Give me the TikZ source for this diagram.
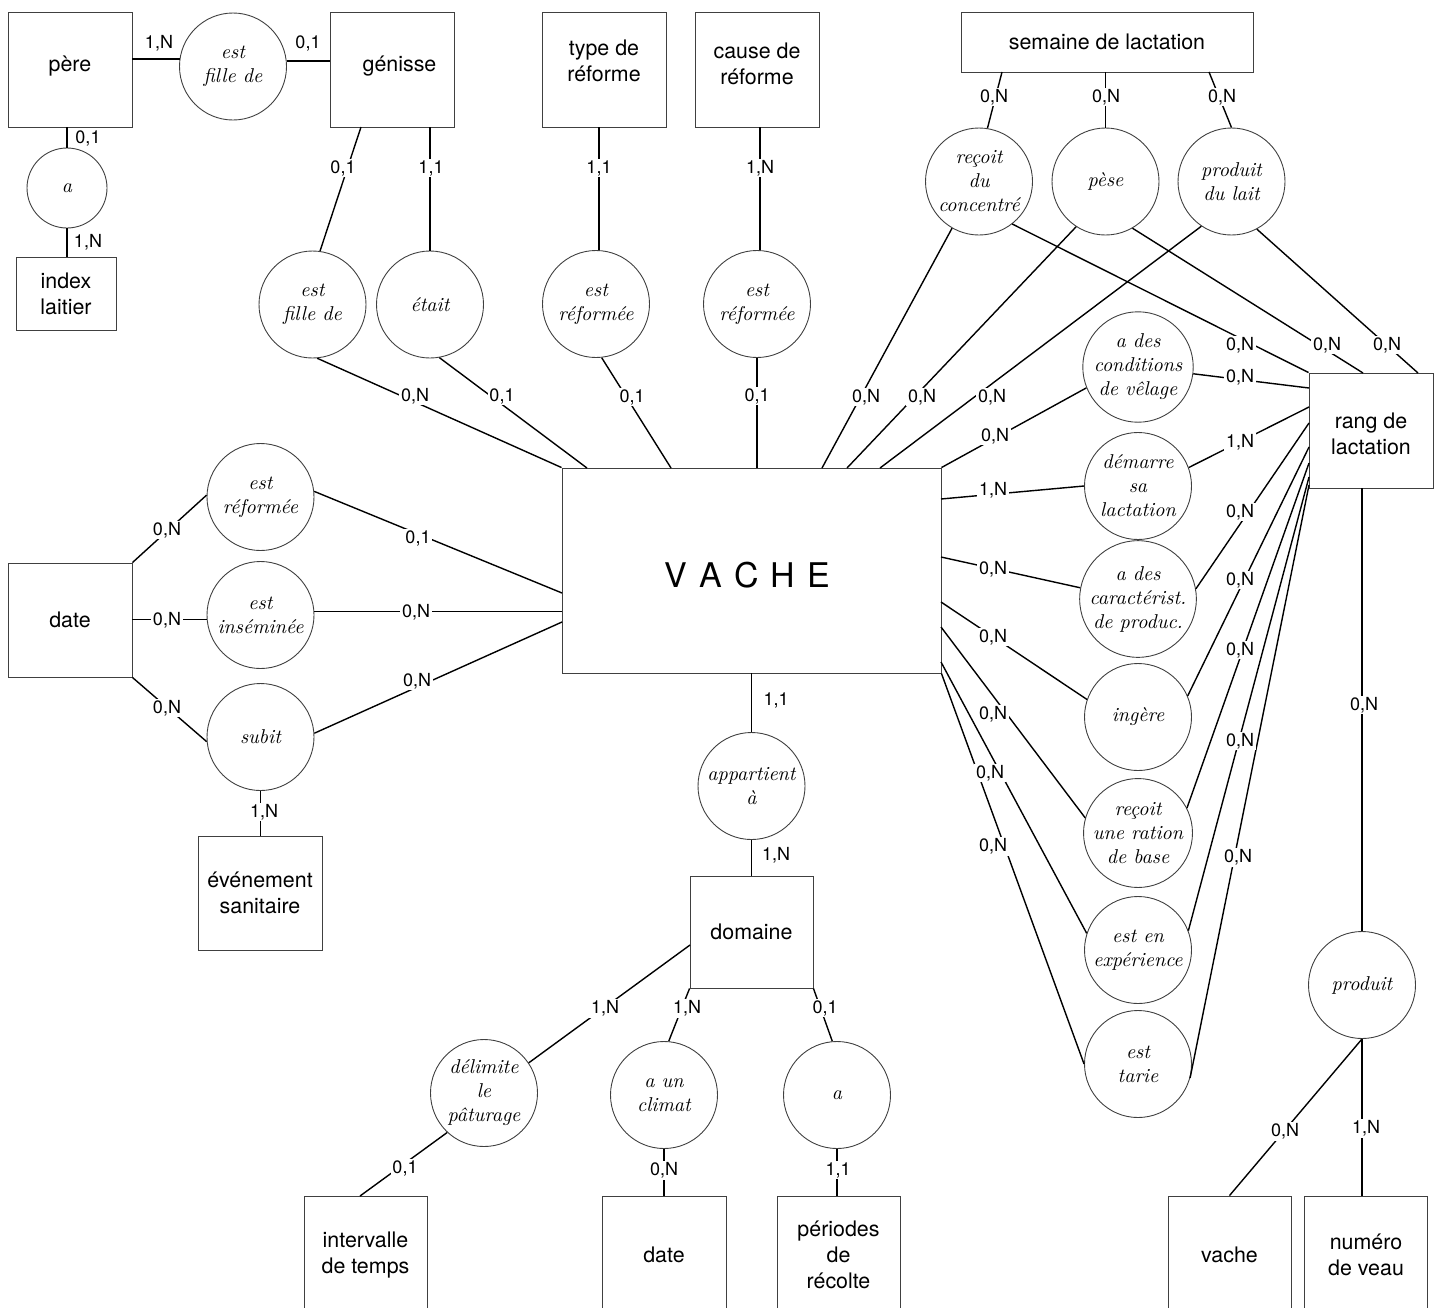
\documentclass[tikz,border=0pt]{standalone}
\usepackage{fontspec}
\setsansfont{TeX Gyre Heros}

\begin{document}
\begin{tikzpicture}[
		x=0.5pt, y=-0.5pt,
		entity/.style={draw=black!75, line width=0.45pt, rectangle, inner sep=0pt, align=center,
			minimum width=62pt, minimum height=57.5pt, font=\sffamily\fontsize{10.7}{13}\selectfont},
		entlabel/.style={inner sep=0pt, align=center, font=\sffamily\fontsize{10.7}{13}\selectfont},
		relation/.style={draw=black!75, line width=0.45pt, circle, inner sep=0pt, align=center,
			minimum size=53.5pt, font=\itshape\fontsize{10}{12}\selectfont},
		card/.style={fill=white, inner sep=0.8pt, font=\sffamily\fontsize{9}{10}\selectfont},
		link/.style={line width=0.7pt, black}
		]
		\useasboundingbox (0,0) rectangle (1444,1307);
		\clip (0,0) rectangle (1444,1307);
		% Entities
		\node[entity, label={[entlabel, yshift=1.5pt]center:père}] at (70,69.5) (pere) {};
		\node[entity, label={[entlabel, xshift=3.5pt, yshift=1.5pt]center:génisse}] at (392.5,69.5) (genisse) {};
		\node[entity, label={[entlabel, yshift=4.5pt]center:{type de\\réforme}}] at (604,69.5) (typeref) {};
		\node[entity, label={[entlabel, yshift=3pt]center:{cause de\\réforme}}] at (757,69.5) (causeref) {};
		\node[entity, minimum width=146pt, minimum height=30pt] at (1107,42) (semaine) {semaine de lactation};
		\node[entity, minimum width=50pt, minimum height=36.5pt] at (66,293.5) (index) {index\\laitier};
		\node[entity, minimum height=57pt] at (70,620) (dateL) {date};
		\node[entity, minimum width=189.5pt, minimum height=102.5pt,
			label={[entlabel, xshift=-2pt, yshift=-2.5pt, font=\sffamily\fontsize{17}{20}\selectfont]center:{V\kern6pt A\kern6pt C\kern6pt H\kern6pt E}}]
			at (751.5,570.5) (vache) {};
		\node[entity, label={[entlabel, yshift=-1.5pt]center:{rang de\\lactation}}] at (1371,430.5) (rang) {};
		\node[entity, minimum height=57pt] at (260,893) (evenement) {événement\\sanitaire};
		\node[entity, minimum width=61.5pt, minimum height=56pt] at (751.5,932) (domaine) {domaine};
		\node[entity, minimum width=61.5pt, minimum height=59pt] at (365.5,1255) (intervalle) {intervalle\\de temps};
		\node[entity, minimum height=59pt] at (664,1255) (dateB) {date};
		\node[entity, minimum width=61.5pt, minimum height=59pt] at (838.5,1255) (periodes) {périodes\\de\\récolte};
		\node[entity, minimum width=61.5pt, minimum height=59pt] at (1229.5,1255) (vacheB) {vache};
		\node[entity, minimum width=61.5pt, minimum height=59pt] at (1366,1255) (numero) {numéro\\de veau};
		
		% Relationships
		\node[relation] at (233,66.5) (filleT) {est\\fille de};
		\node[relation, minimum size=40pt] at (67,188) (aPere) {a};
		\node[relation] at (312.5,304.5) (filleB) {est\\fille de};
		\node[relation] at (430,304.5) (etait) {était};
		\node[relation] at (596,304) (reformT1) {est\\réformée};
		\node[relation] at (757,304) (reformT2) {est\\réformée};
		\node[relation] at (979,181.5) (concentre) {reçoit\\du\\concentré};
		\node[relation] at (1105.5,181.5) (pese) {pèse};
		\node[relation] at (1231.5,181.5) (lait) {produit\\du lait};
		\node[relation] at (1138,367) (velage) {a des\\conditions\\de vêlage};
		\node[relation] at (1138,486) (demarre) {démarre\\sa\\lactation};
		\node[relation] at (1138,599) (caract) {a des\\caractérist.\\de produc.};
		\node[relation] at (1138,717) (ingere) {ingère};
		\node[relation] at (1138,833) (ration) {reçoit\\une ration\\de base};
		\node[relation] at (1138,950) (experience) {est en\\expérience};
		\node[relation] at (1138,1064) (tarie) {est\\tarie};
		\node[relation] at (260.5,497) (reformL) {est\\réformée};
		\node[relation] at (260.5,615) (insemine) {est\\inséminée};
		\node[relation] at (260.5,737) (subit) {subit};
		\node[relation] at (751.5,786) (appartient) {appartient\\à};
		\node[relation] at (484,1093) (delimite) {délimite\\le\\pâturage};
		\node[relation] at (664,1095) (climat) {a un\\climat};
		\node[relation] at (837,1095) (aDomaine) {a};
		\node[relation] at (1362,985) (produit) {produit};
		
		% Border points
		\coordinate (g1) at (361,127);
		\coordinate (s1) at (1002,72);
		\coordinate (s3) at (1209,72);
		\coordinate (r2) at (1363,373);
		\coordinate (r3) at (1418,373);
		\coordinate (v2) at (587,468);
		\coordinate (v3) at (671,468);
		\coordinate (v5) at (822,468);
		\coordinate (v6) at (847,468);
		\coordinate (v7) at (880,468);
		\coordinate (vr1) at (941,499);
		\coordinate (vr2) at (941,557);
		\coordinate (vr3) at (941,602);
		\coordinate (vr4) at (941,627);
		\coordinate (vr5) at (941,662);
		\coordinate (vl1) at (562,593);
		\coordinate (vl3) at (562,622);
		\coordinate (rl1) at (1309,388);
		\coordinate (rl2) at (1309,407);
		\coordinate (rl3) at (1309,423);
		\coordinate (rl4) at (1309,447);
		\coordinate (rl5) at (1309,463);
		\coordinate (rl6) at (1309,477);
		\coordinate (rl7) at (1309,485);
		\coordinate (dm1) at (690,945);
		\coordinate (ib) at (360,1196);
		
		% Connectors
		\draw[link] (filleT.172) -- (filleT.172 -| pere.east);
		\draw[link] (filleT.6) -- (filleT.6 -| genisse.west);
		\draw[link] (aPere.north) -- (aPere.north |- pere.south);
		\draw[link] (aPere.south) -- (aPere.south |- index.north);
		\draw[link] (g1) -- (filleB.82);
		\draw[link] (etait.north |- genisse.south) -- (etait.north);
		\draw[link] (reformT1.87 |- typeref.south) -- (reformT1.87);
		\draw[link] (reformT2.87 |- causeref.south) -- (reformT2.87);
		
		\draw[link] (s1) -- (concentre.81);
		\draw[link] (pese.north |- semaine.south) -- (pese.north);
		\draw[link] (s3) -- (lait.north);
		\draw[link] (concentre.-52) -- (rang.north west);
		\draw[link] (pese.-60) -- (r2);
		\draw[link] (lait.-62) -- (r3);
		
		\draw[link] (filleB.-85) -- (vache.north west);
		\draw[link] (etait.-80) -- (v2);
		\draw[link] (reformT1.-84) -- (v3);
		\draw[link] (reformT2.south) -- (reformT2.south |- vache.north);
		\draw[link] (concentre.240) -- (v5);
		\draw[link] (pese.237) -- (v6);
		\draw[link] (lait.236) -- (v7);
		
		\draw[link] (vache.north east) -- (velage.202);
		\draw[link] (velage.353) -- (rl1);
		\draw[link] (vr1) -- (demarre.west);
		\draw[link] (demarre.20) -- (rl2);
		\draw[link] (vr2) -- (caract.169);
		\draw[link] (caract.10) -- (rl3);
		\draw[link] (vr3) -- (ingere.161);
		\draw[link] (ingere.23) -- (rl4);
		\draw[link] (vr4) -- (ration.164);
		\draw[link] (ration.27) -- (rl5);
		\draw[link] (vr5) -- (experience.162);
		\draw[link] (experience.21) -- (rl6);
		\draw[link] (vache.south east) -- (tarie.west);
		\draw[link] (tarie.345) -- (rl7);
		
		\draw[link] (dateL.north east) -- (reformL.178);
		\draw[link] (insemine.185) -- (insemine.185 -| dateL.east);
		\draw[link] (dateL.south east) -- (subit.185);
		\draw[link] (reformL.6) -- (vl1);
		\draw[link] (insemine.4) -- (insemine.4 -| vache.west);
		\draw[link] (subit.4) -- (vl3);
		\draw[link] (subit.south) -- (subit.south |- evenement.north);
		
		\draw[link] (vache.south -| appartient.north) -- (appartient.north);
		\draw[link] (appartient.south) -- (appartient.south |- domaine.north);
		\draw[link] (dm1) -- (delimite.34);
		\draw[link] (delimite.227) -- (ib);
		\draw[link] (domaine.south west) -- (climat.85);
		\draw[link] (domaine.south east) -- (aDomaine.95);
		\draw[link] (climat.south) -- (climat.south |- dateB.north);
		\draw[link] (aDomaine.south) -- (aDomaine.south |- periodes.north);
		
		\draw[link] (produit.north |- rang.south) -- (produit.north);
		\draw[link] (produit.south) -- (vacheB.north);
		\draw[link] (produit.south) -- (produit.south |- numero.north);
		
		% Cardinalities
		\node[card] at (159,43) (kPF) {1,N};
		\node[card] at (308,43) (kGF) {0,1};
		\node[card] at (88,138) (kPA) {0,1};
		\node[card] at (88,242) (kIA) {1,N};
		\node[card] at (343,168) (kGF2) {0,1};
		\node[card] at (431,168) (kGE) {1,1};
		\node[card] at (599,168) (kTR) {1,1};
		\node[card] at (760,168) (kCR) {1,N};
		\node[card] at (994,97) (kSC) {0,N};
		\node[card] at (1106,97) (kSP) {0,N};
		\node[card] at (1222,97) (kSL) {0,N};
		\node[card] at (1240,345) (kRC) {0,N};
		\node[card] at (1327,345) (kRP) {0,N};
		\node[card] at (1387,345) (kRL) {0,N};
		
		\node[card] at (415,396) (kVF) {0,N};
		\node[card] at (502,396) (kVE) {0,1};
		\node[card] at (632,397) (kVR1) {0,1};
		\node[card] at (757,396) (kVR2) {0,1};
		\node[card] at (866,397) (kVC) {0,N};
		\node[card] at (922,397) (kVP) {0,N};
		\node[card] at (992,397) (kVL) {0,N};
		
		\node[card] at (995,436) (kVV) {0,N};
		\node[card] at (1240,377) (kRV) {0,N};
		\node[card] at (993,490) (kVD) {1,N};
		\node[card] at (1240,442) (kRD) {1,N};
		\node[card] at (993,569) (kVCa) {0,N};
		\node[card] at (1240,512) (kRCa) {0,N};
		\node[card] at (993,637) (kVI) {0,N};
		\node[card] at (1240,580) (kRI) {0,N};
		\node[card] at (993,714) (kVRa) {0,N};
		\node[card] at (1240,650) (kRRa) {0,N};
		\node[card] at (990,773) (kVEx) {0,N};
		\node[card] at (1240,741) (kREx) {0,N};
		\node[card] at (993,846) (kVT) {0,N};
		\node[card] at (1238,857) (kRT) {0,N};
		
		\node[card] at (167,530) (kDR) {0,N};
		\node[card] at (167,620) (kDI) {0,N};
		\node[card] at (167,708) (kDS) {0,N};
		\node[card] at (418,538) (kVRL) {0,1};
		\node[card] at (416,612) (kVI2) {0,N};
		\node[card] at (417,681) (kVS) {0,N};
		\node[card] at (264,812) (kES) {1,N};
		
		\node[card] at (776,700) (kVA) {1,1};
		\node[card] at (776,855) (kDA) {1,N};
		\node[card] at (605,1008) (kDDe) {1,N};
		\node[card] at (687,1008) (kDCl) {1,N};
		\node[card] at (825,1008) (kDa) {0,1};
		\node[card] at (405,1168) (kIDe) {0,1};
		\node[card] at (664,1170) (kDaCl) {0,N};
		\node[card] at (838,1170) (kPa) {1,1};
		
		\node[card] at (1364,705) (kRPr) {0,N};
		\node[card] at (1285,1131) (kVPr) {0,N};
		\node[card] at (1366,1128) (kNPr) {1,N};
		
	\end{tikzpicture}
\end{document}
